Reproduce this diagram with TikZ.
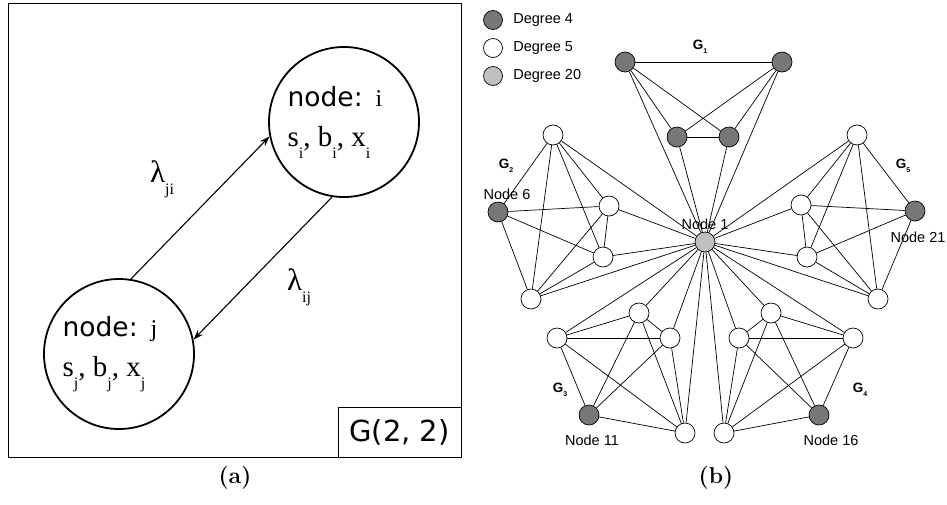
\documentclass[tikz,border=0pt]{standalone}
\usepackage{fontspec}
\newfontfamily\verdfont{DejaVu Sans}
\newfontfamily\timesfont{Liberation Serif}
\newfontfamily\arialfont{Liberation Sans}
\usepackage{tikz}
\usetikzlibrary{arrows.meta, positioning}

\newcommand{\lowidx}[1]{\raisebox{-12pt}{\fontsize{16}{16}\selectfont #1}}
\newcommand{\gidx}[1]{\raisebox{-4pt}{\fontsize{7}{7}\selectfont #1}}
\newcommand{\agenthead}[1]{{\verdfont\fontsize{26.5}{40}\selectfont node:}\hspace{13pt}{\fontsize{24}{40}\selectfont #1}\hspace*{18pt}}
\definecolor{degfour}{HTML}{777777}
\definecolor{degtwenty}{HTML}{C0C0C0}

\tikzset{
  agent/.style={circle, draw, line width=1.8pt, minimum size=150pt, inner sep=0pt,
    align=left, font=\timesfont\fontsize{29}{40}\selectfont},
  rate/.style={font=\timesfont\fontsize{31}{34}\selectfont},
  vtx/.style={circle, draw, line width=0.7pt, minimum size=20pt, inner sep=0pt, fill=white},
  glab/.style={font=\arialfont\bfseries\fontsize{13.5}{14}\selectfont},
  nlab/.style={font=\arialfont\fontsize{14.5}{16}\selectfont},
  caption/.style={font=\fontsize{23}{26}\selectfont\bfseries},
}

\begin{document}
\begin{tikzpicture}[x=1pt, y=-1pt]
\useasboundingbox (0,0) rectangle (947,504);

% (a) two agents
\node (frameA) [draw, line width=0.9pt, minimum width=453pt, minimum height=454pt] at (234.5,230) {};
\node (gbox) [draw, line width=0.8pt, minimum width=123pt, minimum height=50pt, anchor=south east,
  font=\verdfont\fontsize{29}{30}\selectfont] at (frameA.south east) {G(2, 2)};

\node (i) [agent] at (344,122) {\agenthead{i}\\
  s\lowidx{i}, b\lowidx{i}, x\lowidx{i}};
\node (j) [agent] at (119,354) {\agenthead{j}\\
  s\lowidx{j}, b\lowidx{j}, x\lowidx{j}};

\draw[->, >={Stealth[length=10pt, width=7pt]}, line width=1.1pt] (j.81) -- (i.191);
\draw[->, >={Stealth[length=10pt, width=7pt]}, line width=1.1pt] (i.261) -- (j.11);
\node (lamji) [rate] at (162,179) {λ\lowidx{ji}};
\node (lamij) [rate] at (299,287) {λ\lowidx{ij}};

\node (capA) [caption] at (235,478) {(a)};

% (b) legend
\node (leg4) [vtx, fill=degfour, minimum size=19pt] at (493,20) {};
\node (leg5) [vtx, minimum size=19pt] at (493,48) {};
\node (leg20) [vtx, fill=degtwenty, minimum size=19pt] at (493,76) {};
\node (txt4) [nlab, right=7pt of leg4] {Degree 4};
\node (txt5) [nlab, right=7pt of leg5] {Degree 5};
\node (txt20) [nlab, right=7pt of leg20] {Degree 20};

% (b) labels
\node (lab1) [nlab] at (705,224) {Node 1};
\node (lab6) [nlab] at (507,194) {Node 6};
\node (lab11) [nlab] at (592,440) {Node 11};
\node (lab16) [nlab] at (831,440) {Node 16};
\node (lab21) [nlab] at (918,237) {Node 21};
\node (gl1) [glab] at (700,47) {G\gidx{1}};
\node (gl2) [glab] at (506,166) {G\gidx{2}};
\node (gl3) [glab] at (560,390) {G\gidx{3}};
\node (gl4) [glab] at (860,390) {G\gidx{4}};
\node (gl5) [glab] at (903,166) {G\gidx{5}};

% (b) vertices
\node (n1) [vtx, fill=degtwenty] at (705,242) {};
\node (n2) [vtx, fill=degfour] at (625,62) {};
\node (n3) [vtx, fill=degfour] at (782,62) {};
\node (n4) [vtx, fill=degfour] at (677,137) {};
\node (n5) [vtx, fill=degfour] at (729,137) {};

\node (n6) [vtx, fill=degfour] at (498,212) {};
\node (n7) [vtx] at (553,135) {};
\node (n8) [vtx] at (609,206) {};
\node (n9) [vtx] at (603,257) {};
\node (n10) [vtx] at (531,299) {};

\node (n11) [vtx, fill=degfour] at (589,415) {};
\node (n12) [vtx] at (557,338) {};
\node (n13) [vtx] at (639,313) {};
\node (n14) [vtx] at (670,338) {};
\node (n15) [vtx] at (685,433) {};

\node (n16) [vtx, fill=degfour] at (819,415) {};
\node (n17) [vtx] at (853,338) {};
\node (n18) [vtx] at (771,313) {};
\node (n19) [vtx] at (739,338) {};
\node (n20) [vtx] at (724,433) {};

\node (n21) [vtx, fill=degfour] at (915,211) {};
\node (n22) [vtx] at (857,135) {};
\node (n23) [vtx] at (801,205) {};
\node (n24) [vtx] at (807,257) {};
\node (n25) [vtx] at (878,299) {};

% (b) edges
\draw[line width=0.7pt] (n2) edge (n3) edge (n4) edge (n5)
  (n3) edge (n4) edge (n5) (n4) edge (n5);
\draw[line width=0.7pt] (n6) edge (n7) edge (n8) edge (n9) edge (n10)
  (n7) edge (n8) edge (n9) edge (n10) (n8) edge (n9) edge (n10) (n9) edge (n10);
\draw[line width=0.7pt] (n11) edge (n12) edge (n13) edge (n14) edge (n15)
  (n12) edge (n13) edge (n14) edge (n15) (n13) edge (n14) edge (n15) (n14) edge (n15);
\draw[line width=0.7pt] (n16) edge (n17) edge (n18) edge (n19) edge (n20)
  (n17) edge (n18) edge (n19) edge (n20) (n18) edge (n19) edge (n20) (n19) edge (n20);
\draw[line width=0.7pt] (n21) edge (n22) edge (n23) edge (n24) edge (n25)
  (n22) edge (n23) edge (n24) edge (n25) (n23) edge (n24) edge (n25) (n24) edge (n25);
\draw[line width=0.7pt] (n1) edge (n2) edge (n3) edge (n4) edge (n5)
  edge (n7) edge (n8) edge (n9) edge (n10)
  edge (n12) edge (n13) edge (n14) edge (n15)
  edge (n17) edge (n18) edge (n19) edge (n20)
  edge (n22) edge (n23) edge (n24) edge (n25);

\node (capB) [caption] at (716,478) {(b)};
\end{tikzpicture}
\end{document}
